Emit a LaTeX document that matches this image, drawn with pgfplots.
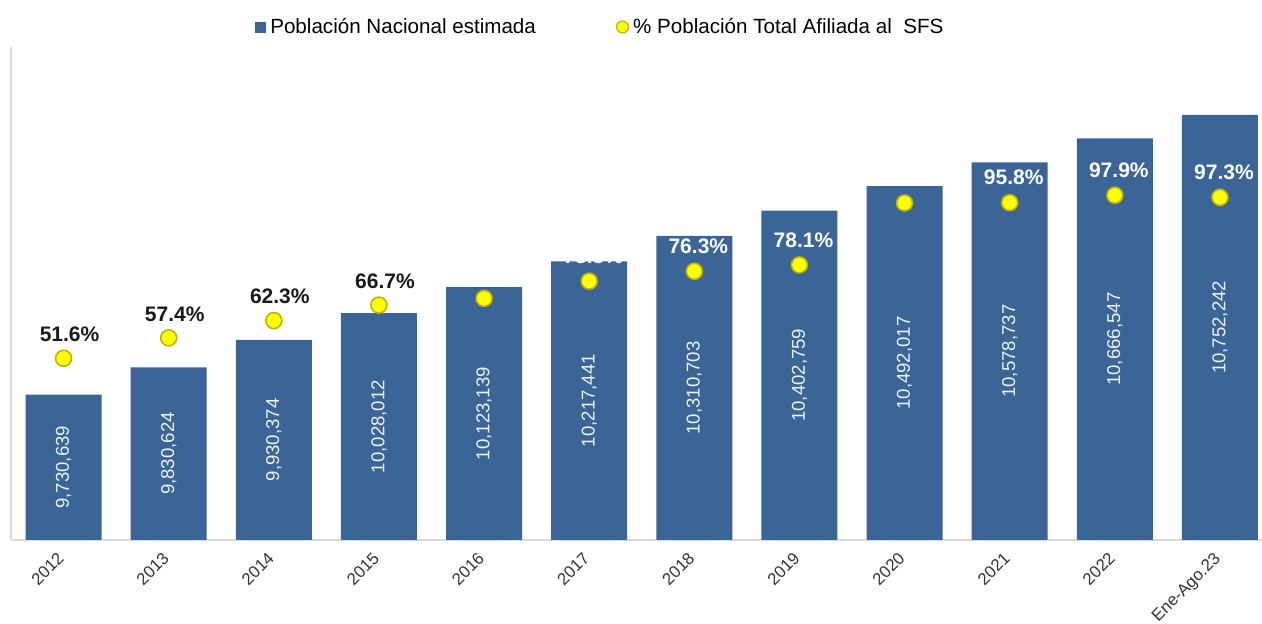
\documentclass[border=0pt]{standalone}
\usepackage{pgfplots}
\pgfplotsset{compat=1.18}
\usepackage{pgfplotstable}
\usepackage{fontspec}
\setmainfont{Liberation Sans}

\definecolor{barblue}{HTML}{3B6597}
\definecolor{dotyellow}{HTML}{FFFF00}
\definecolor{dotedge}{HTML}{C2B200}
\definecolor{axgray}{HTML}{D9D9D9}

% population in millions, label as printed in the bar
\pgfplotstableread{
x pop lab
0 9.730639 9,730,639
1 9.830624 9,830,624
2 9.930374 9,930,374
3 10.028012 10,028,012
4 10.123139 10,123,139
5 10.217441 10,217,441
6 10.310703 10,310,703
7 10.402759 10,402,759
8 10.492017 10,492,017
9 10.578737 10,578,737
10 10.666547 10,666,547
11 10.752242 10,752,242
}\poptable

\pgfplotstableread{
x pct
0 51.6
1 57.4
2 62.3
3 66.7
4 68.6
5 73.5
6 76.3
7 78.1
8 95.7
9 95.8
10 97.9
11 97.3
}\pcttable

\begin{document}
\begin{tikzpicture}
  \begin{axis}[
      scale only axis, width=625.5pt, height=246.5pt,
      xmin=-0.5, xmax=11.4, ymin=9.2, ymax=11.0,
      axis x line*=bottom, axis y line*=left,
      axis line style={axgray, line width=1pt},
      ytick=\empty,
      xtick={0,...,11},
      xticklabels={2012,2013,2014,2015,2016,2017,2018,2019,2020,2021,2022,Ene-Ago.23},
      major tick length=0pt,
      xticklabel style={rotate=45, anchor=north east, xshift=-3pt, yshift=2pt,
        font=\fontsize{8.4}{10}\selectfont, text=black!80},
    ]
    %% bars, value printed in the middle of each bar
    \addplot[ybar, bar width=38pt, fill=barblue, draw=none,
      nodes near coords, point meta=explicit symbolic,
      visualization depends on=rawy \as \rawy,
      every node near coord/.append style={
        shift={(axis direction cs:0,{-(\rawy-9.2)/2})}, rotate=90, anchor=center,
        text=white!92!barblue, font=\fontsize{9.3}{10}\selectfont}]
      table[x=x, y=pop, meta=lab] {\poptable};
  \end{axis}

  \begin{axis}[
      scale only axis, width=625.5pt, height=246.5pt,
      xmin=-0.5, xmax=11.4, ymin=0, ymax=140,
      hide axis, clip=false,
      legend style={at={(0.472,1.0406)}, anchor=center, draw=none, fill=none,
        font=\fontsize{10.3}{12}\selectfont, legend columns=2,
        /tikz/every even column/.append style={column sep=38pt}},
      legend cell align=left,
    ]
    \addlegendimage{legend image code/.code={\fill[barblue] (0pt,-2.5pt) rectangle (5pt,2.5pt);}}
    \addlegendentry{Población Nacional estimada}
    %% share of population in the SFS
    \addplot[only marks, mark=*, mark size=4pt,
      mark options={fill=dotyellow, draw=dotedge, line width=0.8pt},
      legend image code/.code={\draw[fill=dotyellow, draw=dotedge, line width=0.6pt] (2pt,0pt) circle (3pt);}]
      table[x=x, y=pct] {\pcttable};
    \addlegendentry{\% Población Total Afiliada al~~SFS}

    %% labels above the bars (black) and over the bars (white)
    \addplot[draw=none, forget plot, nodes near coords, point meta=explicit symbolic,
      nodes near coords style={font=\bfseries\fontsize{10.5}{12}\selectfont, text=black!90,
        anchor=center, inner sep=0pt, yshift=12pt, xshift=3pt}]
      coordinates {(0,51.6)[51.6\%] (1,57.4)[57.4\%] (2,62.3)[62.3\%] (3,66.7)[66.7\%]};
    \addplot[draw=none, forget plot, nodes near coords, point meta=explicit symbolic,
      nodes near coords style={font=\bfseries\fontsize{10.5}{12}\selectfont, text=white,
        anchor=center, inner sep=0pt, yshift=12.5pt, xshift=2pt}]
      coordinates {(4,68.6)[68.6\%] (5,73.5)[73.5\%] (6,76.3)[76.3\%] (7,78.1)[78.1\%]
        (8,95.7)[95.7\%] (9,95.8)[95.8\%] (10,97.9)[97.9\%] (11,97.3)[97.3\%]};

    \coordinate (bbl) at (rel axis cs:-0.0088,-0.1704);
    \coordinate (btr) at (rel axis cs:1,1.0953);
  \end{axis}
  \pgfresetboundingbox
  \path[use as bounding box] (bbl) rectangle (btr);
\end{tikzpicture}
\end{document}
